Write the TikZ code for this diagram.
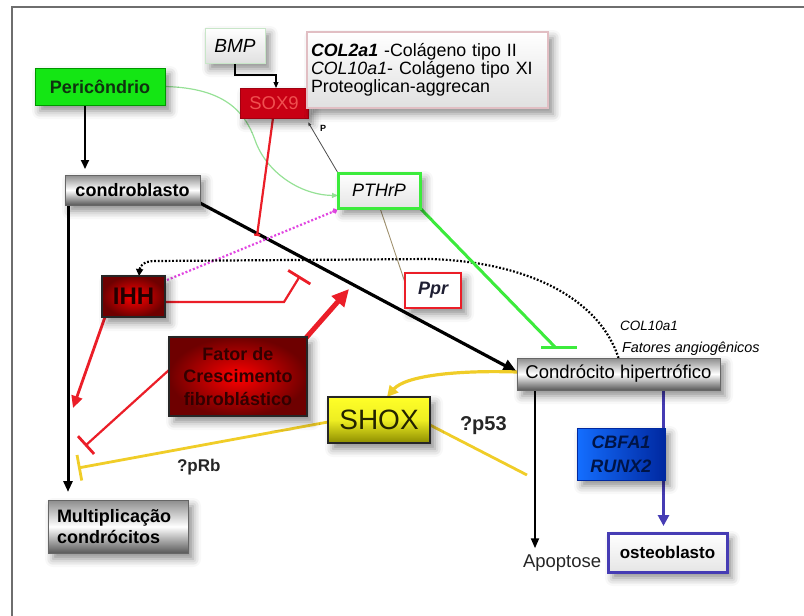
\documentclass[tikz,border=0pt]{standalone}
\usepackage{fontspec}
\setmainfont{Liberation Sans}
\usetikzlibrary{arrows.meta,shadows.blur,calc}
\pgfdeclarelayer{background}
\pgfsetlayers{background,main}

\definecolor{framegray}{RGB}{110,110,110}
\definecolor{perigreen}{RGB}{20,230,20}
\definecolor{peridraw}{RGB}{0,150,0}
\definecolor{brightgreen}{RGB}{60,235,60}
\definecolor{thingreen}{RGB}{150,225,150}
\definecolor{soxred}{RGB}{200,0,20}
\definecolor{soxtext}{RGB}{240,80,80}
\definecolor{darkred}{RGB}{110,0,0}
\definecolor{linered}{RGB}{235,30,40}
\definecolor{magentadot}{RGB}{225,70,225}
\definecolor{shoxtop}{RGB}{255,255,40}
\definecolor{shoxbot}{RGB}{140,140,0}
\definecolor{yelline}{RGB}{240,205,40}
\definecolor{bluetop}{RGB}{20,110,255}
\definecolor{bluebot}{RGB}{0,40,160}
\definecolor{blueline}{RGB}{70,60,180}
\definecolor{olivethin}{RGB}{160,145,110}
\definecolor{pinkborder}{RGB}{225,190,195}
\definecolor{bmpborder}{RGB}{200,230,200}

\begin{document}
\begin{tikzpicture}[x=1pt,y=-1pt,
  every node/.style={inner sep=0pt, outer sep=0pt},
  fs/.style={font=\fontsize{#1}{#1}\selectfont},
  shad/.style={blur shadow={shadow xshift=5pt, shadow yshift=-6pt,
      shadow blur radius=8pt, shadow opacity=45}},
  greybox/.style={shad, draw=black!60, line width=0.8pt,
      top color=black!45, bottom color=black!65, middle color=white},
  lightbox/.style={shad, top color=white, bottom color=black!12},
  redbox/.style={shad, draw=black!85, line width=1.8pt,
      inner color=red, outer color=darkred},
  redl/.style={draw=linered},
  yel/.style={draw=yelline},
  gline/.style={draw=brightgreen, line width=3pt},
  dotline/.style={draw=black, line width=2.2pt, dash pattern=on 1.8pt off 1.8pt},
  pinkline/.style={draw=magentadot, line width=2.2pt, dash pattern=on 2pt off 2pt}
]
\useasboundingbox (0,0) rectangle (804,616);

% outer frame
\draw[framegray, line width=2pt] (12,616) -- (12,7) -- (804,7);

% ---------- nodes ----------
\node[lightbox, draw=bmpborder, line width=1pt, minimum width=60pt, minimum height=35pt,
      fs=19] (bmp) at (235,45.5) {\itshape BMP};

\node[shad, draw=soxred!80!black, fill=soxred, line width=1pt, minimum width=68pt,
      minimum height=30pt, fs=18.5, text=soxtext] (sox) at (274,103) {SOX9};

\node[lightbox, draw=pinkborder, line width=1.2pt, text width=233pt, inner xsep=4pt,
      minimum height=76pt, align=left, font=\fontsize{17.8}{18}\selectfont] (txt) at (427.5,70)
  {\textbf{\textit{COL2a1}} -Colágeno tipo II\\
   \textit{COL10a1}- Colágeno tipo XI\\
   Proteoglican-aggrecan};

\node[shad, draw=peridraw, line width=1pt, fill=perigreen, minimum width=130pt,
      minimum height=37pt, fs=18, text={rgb,255:red,15;green,50;blue,15}] (peri) at (100,86.5)
  {\bfseries Pericôndrio};

\node[greybox, minimum width=135pt, minimum height=30pt, fs=18] (cbl) at (132.5,190)
  {\bfseries condroblasto};

\node[shad, draw=brightgreen, line width=3pt, top color=white, bottom color=black!10,
      minimum width=82pt, minimum height=35pt, fs=18] (pthrp) at (379,190.5)
  {\itshape PTHrP};

\node[redbox, minimum width=63pt, minimum height=41pt, fs=24,
      text={rgb,255:red,35;green,0;blue,0}] (ihh) at (133.5,296.5) {\bfseries IHH};

\node[shad, draw=linered, line width=2.5pt, fill=white, minimum width=56pt,
      minimum height=35pt, fs=18, text={rgb,255:red,30;green,30;blue,50}] (ppr) at (433,290.5)
  {\bfseries\itshape Ppr};

\node[redbox, minimum width=138pt, minimum height=79pt, align=center,
      font=\fontsize{18}{22.5}\selectfont, text={rgb,255:red,50;green,0;blue,0}] (fgf) at (238,376.5)
  {\bfseries Fator de\\ \bfseries Crescimento\\ \bfseries fibroblástico};

\node[shad, draw=black!85, line width=2pt, top color=shoxtop, bottom color=shoxbot,
      middle color=shoxtop!85!shoxbot, minimum width=102pt, minimum height=46pt,
      fs=28, text={rgb,255:red,35;green,35;blue,0}] (shox) at (379,420) {SHOX};

\node[greybox, minimum width=203pt, minimum height=32pt, fs=18.5] (hyp) at (618.5,374)
  {Condrócito hipertrófico};

\node[shad, draw=bluebot, line width=1pt, left color=bluetop, right color=bluebot,
      minimum width=88pt, minimum height=52pt, align=center,
      font=\fontsize{18}{24}\selectfont, text={rgb,255:red,0;green,20;blue,70}] (cbfa) at (621,454)
  {\bfseries\itshape CBFA1\\ \bfseries\itshape RUNX2};

\node[shad, draw=blueline, line width=3pt, top color=white, bottom color=black!10,
      minimum width=119pt, minimum height=39pt, fs=17] (osteo) at (667.5,552.5)
  {\bfseries osteoblasto};

\node[greybox, text width=122pt, inner xsep=9pt, minimum height=53pt, align=left,
      font=\fontsize{18}{21}\selectfont] (mult) at (118,526.5)
  {\bfseries Multiplicação\\ \bfseries condrócitos};

\node[anchor=base west, fs=18.5, text=black!85] (apop) at (523,567) {Apoptose};

% labels
\node[anchor=base west, fs=17, text=black!85] (prb) at (177,471) {\bfseries ?pRb};
\node[anchor=base west, fs=20, text=black!85] (p53) at (460,430) {\bfseries ?p53};
\node[anchor=base west, fs=13.5] (col10) at (620,330) {\itshape COL10a1};
\node[anchor=base west, fs=14.4] (fat) at (622,352) {\itshape Fatores angiogênicos};
\node[anchor=base west, fs=9] (plab) at (320,131) {\bfseries P};

% free ends of connectors
\coordinate (soxend) at (257,236);
\coordinate (ihht) at (300,276);
\coordinate (ihhend) at (73,408);
\coordinate (fgfend) at (349,289);
\coordinate (fgft) at (85,446);
\coordinate (shoxt) at (78,468);
\coordinate (shoxend) at (527,475);
\coordinate (gbar) at (555,347);

% ---------- connectors, drawn beneath the boxes ----------
\begin{pgfonlayer}{background}
\draw[black, line width=1.1pt, -{Triangle[length=6pt,width=5pt]}]
  (bmp.south) -- ++(0,12) -| ([xshift=2pt]sox.north);

\draw[black, line width=2pt, -{Triangle[length=9pt,width=8pt]}, shorten >=6pt]
  ([xshift=-15pt]peri.south) -- ([xshift=-47.5pt]cbl.north);

\draw[black, line width=3pt, -{Triangle[length=11pt,width=9pt]}, shorten >=8pt]
  ([xshift=3pt]cbl.south west) -- ([xshift=3pt]cbl.south west |- mult.north);

\draw[black, line width=3.2pt, -{Triangle[length=14pt,width=12pt]}]
  ([yshift=2pt]cbl.south east) -- ([yshift=2pt]hyp.west);

\draw[thingreen, line width=1.2pt, -{Triangle[length=6pt,width=5pt]}]
  (peri.east) .. controls (225,88) and (245,112) .. (255,140)
  .. controls (266,172) and (300,195) .. ([yshift=-5pt]pthrp.west);

\draw[black!70, line width=0.8pt, -{Latex[length=4pt,width=3.5pt]}]
  (pthrp.north west) -- ([yshift=-4pt]sox.south east);

\draw[redl, line width=2.2pt, -{Bar[width=6pt]}] ([xshift=-1pt]sox.south) -- (soxend);

\draw[pinkline, -{Circle[length=5pt]}]
  ([xshift=2pt,yshift=-4pt]ihh.north east) -- ([xshift=-1pt,yshift=-2pt]pthrp.south west);

\draw[dotline, -{Triangle[length=7pt,width=7pt]}]
  (hyp.north) .. controls (600,300) and (530,262) .. (430,259) -- (155,261)
  .. controls (145,261) and (140,265) .. ([xshift=5.5pt]ihh.north);

\draw[redl, line width=2.2pt, -{Bar[width=26pt,line width=2.8pt]}]
  ([yshift=-5.5pt]ihh.east) -- (284,302) -- (ihht);

\draw[redl, line width=2.8pt, -{Triangle[length=12pt,width=11pt]}]
  ([xshift=3pt]ihh.south west) -- (ihhend);

\draw[redl, line width=5pt, -{Triangle[length=17pt,width=16pt]}]
  ([xshift=-2pt,yshift=-2pt]fgf.north east) -- (fgfend);

\draw[redl, line width=2.2pt, -{Bar[width=24pt,line width=2.8pt]}]
  ([yshift=6.5pt]fgf.west) -- (fgft);

\draw[yel, line width=3.2pt, -{Triangle[length=11pt,width=11pt]}]
  ([yshift=2pt]hyp.west) .. controls (455,370) and (405,376) .. ([xshift=8pt]shox.north);

\draw[yel, line width=2.8pt, -{Bar[width=26pt,line width=2.8pt]}]
  ([yshift=-2pt]shox.west) -- (shoxt);

\draw[yel, line width=2.8pt] ([yshift=-5pt]shox.east) -- (shoxend);

\draw[black, line width=2pt, -{Triangle[length=10pt,width=8pt]}, shorten >=6pt]
  ([xshift=18pt]hyp.south west) -- ([xshift=18pt]hyp.south west |- apop.north);

\draw[blueline, line width=3.2pt, -{Triangle[length=11pt,width=11pt]}, shorten >=7pt]
  ([xshift=-56.5pt]hyp.south east) -- ([xshift=-56.5pt]hyp.south east |- osteo.north);

\draw[gline] (pthrp.south east) -- (gbar);
\draw[gline] ([xshift=-14pt]gbar) -- ([xshift=22pt]gbar);

\draw[olivethin, line width=0.9pt] ([xshift=1pt]pthrp.south) -- ([yshift=8pt]ppr.west);
\end{pgfonlayer}
\end{tikzpicture}
\end{document}
